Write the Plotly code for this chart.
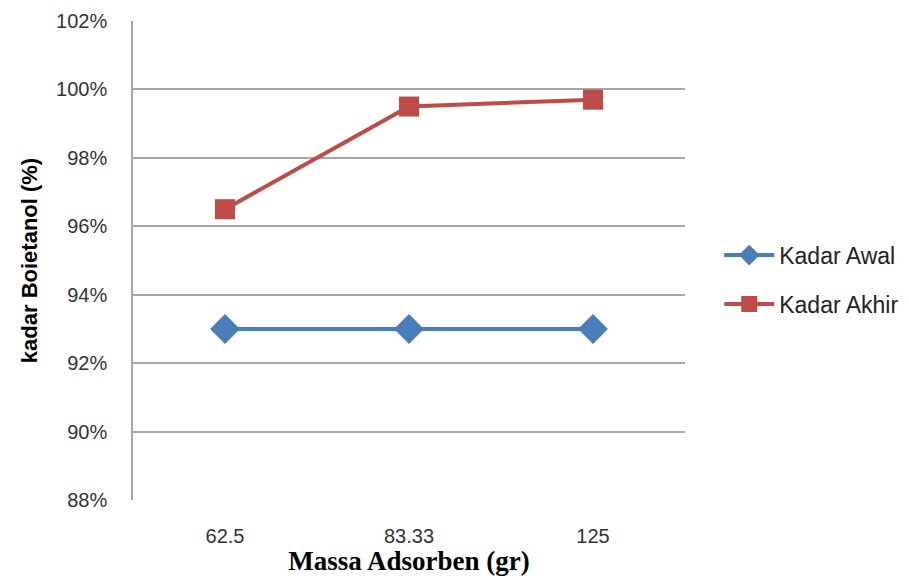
import plotly.graph_objects as go

categories = ["62.5", "83.33", "125"]
kadar_awal = [0.93, 0.93, 0.93]
kadar_akhir = [0.965, 0.995, 0.997]
series_names = ["Kadar Awal", "Kadar Akhir"]
y_title = "kadar Boietanol (%)"
x_title = "Massa Adsorben (gr)"

tick_font = dict(family="Liberation Sans, Arial", size=20, color="#333333")

fig = go.Figure()
fig.add_trace(go.Scatter(
    x=categories, y=kadar_awal, name=series_names[0], mode="lines+markers",
    legendgroup="a",
    line=dict(color="#4A7EBB", width=4),
    marker=dict(symbol="diamond", size=23, color="#4A7EBB"),
))
fig.add_trace(go.Scatter(
    x=categories, y=kadar_akhir, name=series_names[1], mode="lines+markers",
    legendgroup="b",
    line=dict(color="#BE4B48", width=4),
    marker=dict(symbol="square", size=20, color="#BE4B48"),
))

fig.update_layout(
    width=909, height=576,
    margin=dict(l=133, r=224, t=21, b=76, autoexpand=False),
    paper_bgcolor="white", plot_bgcolor="white",
    showlegend=True,
    legend=dict(
        x=1.062, y=0.46, xanchor="left", yanchor="middle",
        font=dict(family="Liberation Sans, Arial", size=23, color="#222222"),
        traceorder="grouped", tracegroupgap=16, itemwidth=50,
    ),
    xaxis=dict(
        type="category", range=[-0.5, 2.5], automargin=False,
        showgrid=False, showline=False, zeroline=False,
        tickfont=tick_font, ticks="", ticklabelstandoff=22,
        title=dict(text="<b>" + x_title + "</b>",
                   font=dict(family="Liberation Serif, Times New Roman", size=27, color="black"),
                   standoff=0),
    ),
    yaxis=dict(
        range=[0.88, 1.02], dtick=0.02, tick0=0.88, tickformat=".0%",
        automargin=False,
        showgrid=True, gridcolor="#A6A6A6", gridwidth=1.5,
        showline=True, linecolor="#A6A6A6", linewidth=1.5,
        zeroline=False, ticks="", ticklabelstandoff=20,
        tickfont=tick_font,
        title=dict(text="<b>" + y_title + "</b>",
                   font=dict(family="Liberation Sans, Arial", size=22, color="black"),
                   standoff=12),
    ),
)

fig.write_html("out.html", config={"displayModeBar": False},
               post_script="document.body.style.margin='0';")
